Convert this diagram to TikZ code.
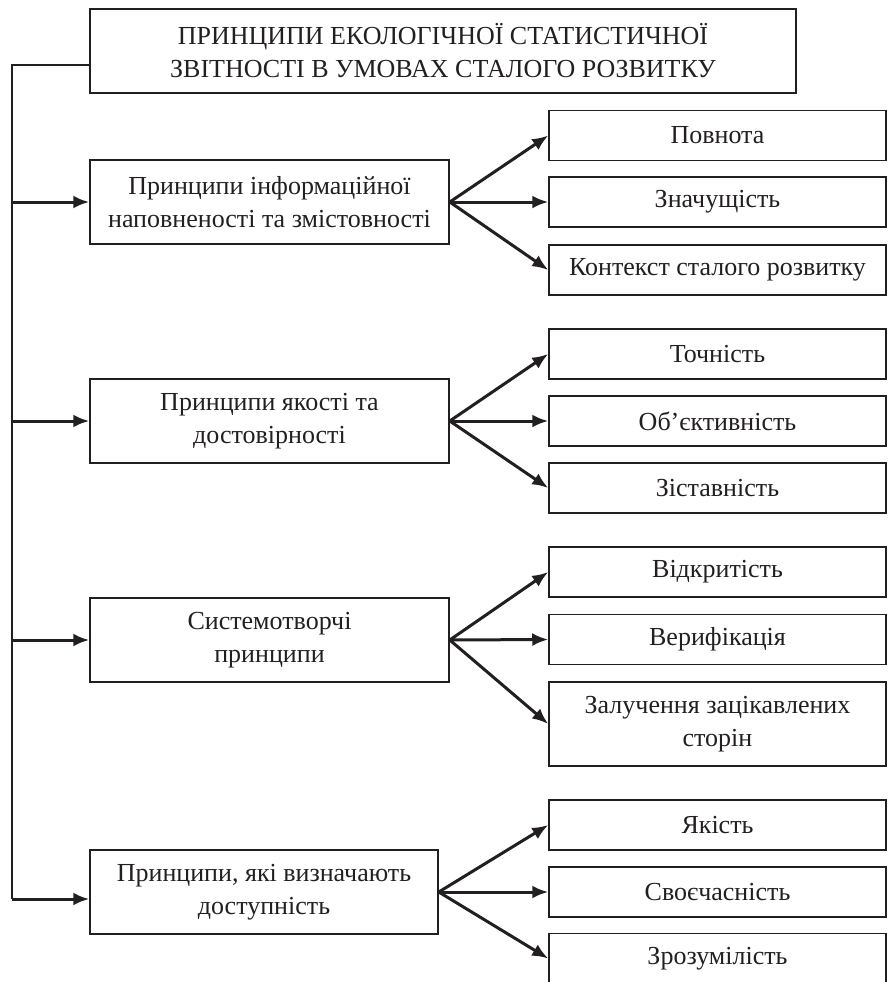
\documentclass[tikz,border=0pt]{standalone}
\usepackage{fontspec}
\setmainfont{Liberation Serif}
\usetikzlibrary{arrows.meta,calc}
\definecolor{ink}{HTML}{231F20}
\begin{document}
\begin{tikzpicture}[x=1pt,y=-1pt,
  box/.style={draw=ink,line width=1.5pt,rectangle,inner sep=0pt,align=center,
    text=ink,font=\fontsize{26}{33}\selectfont},
  mid/.style={box,minimum width=359pt,minimum height=84pt},
  rbox/.style={box,minimum width=337pt,minimum height=50pt},
  arr/.style={draw=ink,line width=3pt,-{Latex[length=16pt,width=13pt]}},
  thin/.style={draw=ink,line width=1.8pt}]
\useasboundingbox (0,0) rectangle (890,982);
\begin{scope}
\clip (0,0) rectangle (890,982);
\node[box,minimum width=706pt,minimum height=84pt] (title) at (443,51)
  {ПРИНЦИПИ ЕКОЛОГІЧНОЇ СТАТИСТИЧНОЇ\\ЗВІТНОСТІ В УМОВАХ СТАЛОГО РОЗВИТКУ};
\node[mid] (b1) at (269.5,202) {Принципи інформаційної\\наповненості та змістовності};
\node[mid] (b2) at (269.5,421) {Принципи якості та\\достовірності};
\node[mid] (b3) at (269.5,640) {Системотворчі\\принципи};
\node[mid,minimum width=348pt] (b4) at (264,892) {Принципи, які визначають\\доступність};
\node[rbox] (r1) at (717.5,135.5) {Повнота};
\node[rbox] (r2) at (717.5,202) {Значущість};
\node[rbox] (r3) at (717.5,270) {Контекст сталого розвитку};
\node[rbox] (r4) at (717.5,354) {Точність};
\node[rbox] (r5) at (717.5,421) {Об’єктивність};
\node[rbox] (r6) at (717.5,488) {Зіставність};
\node[rbox] (r7) at (717.5,572) {Відкритість};
\node[rbox] (r8) at (717.5,639.5) {Верифікація};
\node[rbox,minimum height=84pt] (r9) at (717.5,724) {Залучення зацікавлених\\сторін};
\node[rbox] (r10) at (717.5,825) {Якість};
\node[rbox] (r11) at (717.5,892) {Своєчасність};
\node[rbox] (r12) at (717.5,958.5) {Зрозумілість};
\coordinate (top) at (12,65);
\coordinate (bot) at (12,899);
\draw[thin] (title.west |- top) -- (top) -- (bot);
\draw[arr] (b1.west -| top) -- (b1.west);
\draw[arr] (b2.west -| top) -- (b2.west);
\draw[arr] (b3.west -| top) -- (b3.west);
\draw[arr] (bot) -- (bot -| b4.west);
\foreach \m/\a/\b/\c in {b1/r1/r2/r3, b2/r4/r5/r6, b3/r7/r8/r9, b4/r10/r11/r12}{
  \draw[arr] (\m.east) -- (\a.west);
  \draw[arr] (\m.east) -- (\b.west);
  \draw[arr] (\m.east) -- (\c.west);
}
\end{scope}
\end{tikzpicture}
\end{document}
